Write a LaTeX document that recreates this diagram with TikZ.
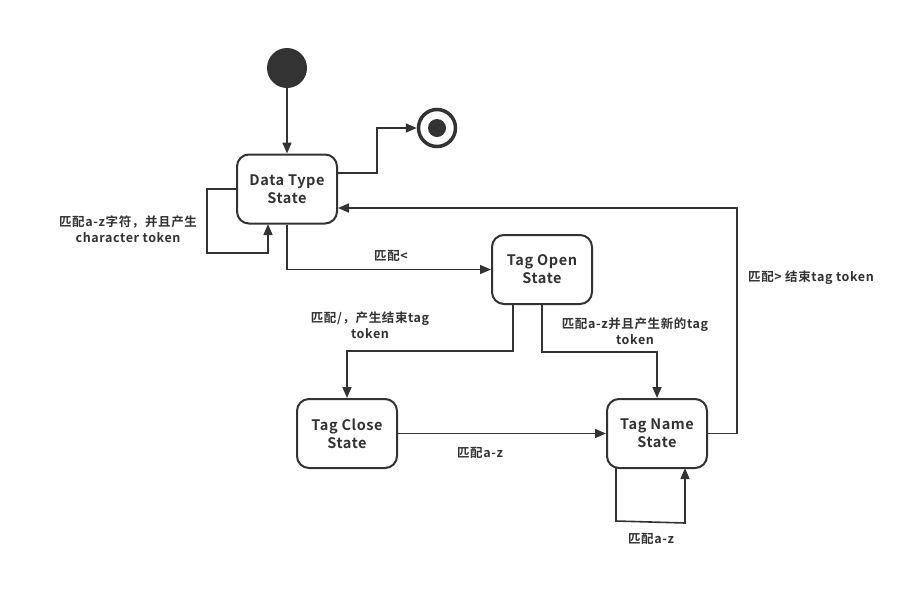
\documentclass[tikz,border=0pt]{standalone}
\usepackage{fontspec}
\setmainfont{Noto Sans CJK SC}[BoldFont={* Bold}]
\newfontfamily\statefont{Noto Sans CJK SC Bold}[LetterSpace=4]
\newfontfamily\labelfont{Noto Sans CJK SC Bold}[LetterSpace=5]
\usetikzlibrary{arrows.meta}
\definecolor{ink}{HTML}{333333}
\tikzset{
  statebox/.style={draw=ink, line width=2pt, rounded corners=12pt, minimum width=100pt,
    minimum height=69pt, align=center, font=\statefont\fontsize{14.5}{18}\selectfont, text=ink},
  flow/.style={draw=ink, line width=1.6pt, -{Triangle[length=11pt,width=9pt]}},
  lbl/.style={font=\labelfont\fontsize{12.5}{16}\selectfont, text=ink, align=center}
}
\begin{document}
\begin{tikzpicture}[x=1pt,y=-1pt]
\useasboundingbox (0,0) rectangle (923,590);
\fill[white] (0,0) rectangle (923,590);

% initial and final pseudo-states
\node (start) [circle, fill=ink, minimum size=40pt, inner sep=0pt] at (287,68) {};
\node (final) [circle, draw=ink, line width=3.5pt, minimum size=37pt, inner sep=0pt] at (437,128) {};
\fill[ink] (final.center) circle (9pt);

% states
\node (data)  [statebox] at (287,189) {Data Type\\State};
\node (open)  [statebox] at (542,269.5) {Tag Open\\State};
\node (close) [statebox] at (347,433.5) {Tag Close\\State};
\node (name)  [statebox] at (657,433.5) {Tag Name\\State};

% helper points
\coordinate (dloopA) at (207,189);
\coordinate (dloopB) at (207,253);
\coordinate (dloopC) at (268,253);
\coordinate (nloopA) at (616,521);
\coordinate (nloopB) at (685,523);

% transitions
\draw[flow] (start.south) -- (data.north);
\draw[flow] (data.east |- 0,173) -| (377,128) -- (final.west);
\draw[flow] (data.west) -- (dloopA) -- (dloopB) -- (dloopC) -- (268,224);
\draw[flow] (data.south) |- (open.west);
\draw[flow] (513,304) |- (347,351) -- (close.north);
\draw[flow] (542,304) |- (657,352) -- (name.north);
\draw[flow] (close.east) -- (name.west);
\draw[flow] (name.east) -| (737,208) -- (data.east |- 0,208);
\draw[flow] (616,468) -- (nloopA) -- (nloopB) -- (685,468);

% labels
\node (l1) [lbl] at (128,229) {匹配a-z字符，并且产生\\character token};
\node (l2) [lbl] at (391,256) {匹配<};
\node (l3) [lbl] at (370,325) {匹配/，产生结束tag\\token};
\node (l4) [lbl] at (635,331) {匹配a-z并且产生新的tag\\token};
\node (l5) [lbl] at (480,453) {匹配a-z};
\node (l6) [lbl] at (811,278) {匹配> 结束tag token};
\node (l7) [lbl] at (651,539) {匹配a-z};
\end{tikzpicture}
\end{document}
